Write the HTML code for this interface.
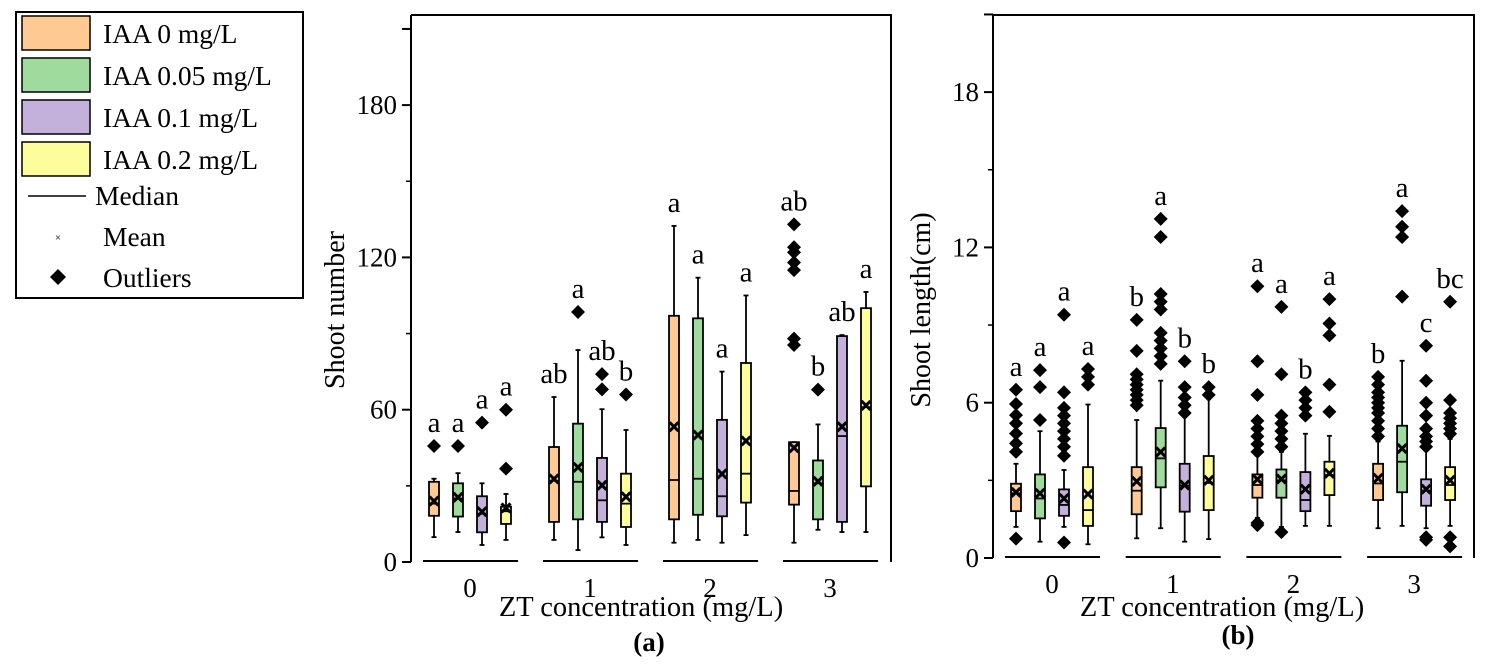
<!DOCTYPE html>
<html><head><meta charset="utf-8"><style>
body{margin:0;background:#fff;}
svg text{font-family:"Liberation Serif",serif;fill:#000;}
</style></head><body>
<svg id="chart" width="1488" height="664" viewBox="0 0 1488 664" xmlns="http://www.w3.org/2000/svg">
<g>
<rect x="16" y="12" width="287" height="286" fill="#fff" stroke="#000" stroke-width="2"/>
<rect x="22" y="16" width="68" height="34" fill="#ffc994" stroke="#000" stroke-width="1.5"/>
<text x="103" y="43" font-size="27.5">IAA 0 mg/L</text>
<rect x="22" y="58" width="68" height="34" fill="#9edb9c" stroke="#000" stroke-width="1.5"/>
<text x="103" y="85" font-size="27.5">IAA 0.05 mg/L</text>
<rect x="22" y="100" width="68" height="34" fill="#c3b1dc" stroke="#000" stroke-width="1.5"/>
<text x="103" y="127" font-size="27.5">IAA 0.1 mg/L</text>
<rect x="22" y="142" width="68" height="34" fill="#fdfd9b" stroke="#000" stroke-width="1.5"/>
<text x="103" y="169" font-size="27.5">IAA 0.2 mg/L</text>
<line x1="28" y1="196" x2="86" y2="196" stroke="#000" stroke-width="1.5"/>
<text x="95" y="205" font-size="27.5">Median</text>
<text x="58" y="241" font-size="11" text-anchor="middle">×</text>
<text x="103" y="246" font-size="27.5">Mean</text>
<path d="M58 269 L66 277 L58 285 L50 277 Z" fill="#000"/>
<text x="103" y="287" font-size="27.5">Outliers</text>
</g>
<g id="panelA"></g>
<g id="panelB"></g>
</svg>
<script>
const categories = ["0", "1", "2", "3"];
const series = ["IAA 0 mg/L", "IAA 0.05 mg/L", "IAA 0.1 mg/L", "IAA 0.2 mg/L"];
const colors = ["#ffc994", "#9edb9c", "#c3b1dc", "#fdfd9b"];

const aTicks = [0, 60, 120, 180];
const aLo   = [9.8,11.8,6.7,8.7, 8.7,4.7,9.7,6.7, 7.6,8.7,7.6,10.6, 7.6,12.7,11.8,11.8];
const aQ1   = [18.2,17.9,11.7,15, 15.8,16.8,15.8,13.8, 16.8,18.6,18,23.4, 22.6,16.8,15.8,29.8];
const aMed  = [23,25,19,20, 32,31.6,24.3,23, 32.3,32.8,25.9,34.8, 28,31,49.6,61];
const aQ3   = [31.6,31,25.9,21.8, 45.3,54.5,41,34.8, 97,96,56,78.4, 47.2,40,89,100];
const aHi   = [32.8,35,31,26.8, 65,83.5,60.2,52, 132.4,112,75,105, 47.2,54.2,89.4,106.4];
const aMean = [24,25.5,19.8,21.3, 32.7,37.3,30.2,25.7, 53.3,50,34.7,47.7, 45,31.8,53.3,61.7];
const aOut  = [[45.7],[45.7],[54.9],[60,36.8], [],[98.5],[74,68],[66], [],[],[],[], [88,85.5,115,118,122,124,133],[67.9],[],[]];
const aLetters = ["a","a","a","a","ab","a","ab","b","a","a","a","a","ab","b","ab","a"];

const bTicks = [0, 6, 12, 18];
const bLo   = [1.2,0.63,1.2,0.53, 0.76,1.15,0.63,0.73, 1.55,1.2,1.24,1.24, 1.15,1.24,1.15,1.24];
const bQ1   = [1.81,1.53,1.63,1.24, 1.69,2.73,1.79,1.85, 2.33,2.33,1.81,2.43, 2.24,2.54,2.02,2.24];
const bMed  = [2.5,2.3,2.05,1.85, 2.6,3.85,2.8,2.9, 2.82,3.0,2.24,3.2, 2.88,3.72,2.6,2.82];
const bQ3   = [2.87,3.23,2.65,3.51, 3.51,5.02,3.64,3.94, 3.23,3.42,3.32,3.72, 3.64,5.11,3.04,3.51];
const bHi   = [3.64,4.9,3.4,5.93, 5.33,6.85,5.6,6.23, 4.0,4.1,4.8,4.72, 4.5,7.62,4.2,4.6];
const bMean = [2.54,2.5,2.3,2.47, 2.96,4.1,2.82,3.0, 3.04,3.05,2.66,3.27, 3.08,4.23,2.66,3.0];
const bOut  = [[6.5,5.95,5.52,5.2,4.81,4.43,4.1,0.75],[7.26,6.6,5.33],[9.4,6.4,5.8,5.5,5.2,4.9,4.6,4.3,3.95,0.6],[7.3,7.0,6.7],
               [9.2,8.0,7.1,6.9,6.7,6.5,6.3,6.1,5.9],[13.1,12.4,10.2,9.9,9.6,8.7,8.4,8.1,7.8,7.5],[7.6,6.6,6.2,5.9,5.6],[6.6,6.3],
               [10.5,7.6,6.3,5.3,5.0,4.7,4.4,4.1,1.27,1.35],[9.7,7.1,5.5,5.2,4.9,4.6,4.3,1.0],[6.4,6.1,5.8,5.5],[10.0,9.06,8.6,6.7,5.65],
               [7.0,6.7,6.4,6.2,6.0,5.8,5.6,5.3,5.0,4.7],[13.4,12.8,12.4,10.1],[8.2,6.85,6.0,5.5,5.0,4.7,4.5,4.3,0.8,0.7],[9.9,6.1,5.6,5.4,5.2,5.0,4.8,0.8,0.45]];
const bLetters = ["a","a","a","a","b","a","b","b","a","a","b","a","b","a","c","bc"];

const NS = "http://www.w3.org/2000/svg";
function mk(parent, tag, attrs) {
  const el = document.createElementNS(NS, tag);
  for (const k in attrs) el.setAttribute(k, attrs[k]);
  parent.appendChild(el);
  return el;
}

function drawPanel(g, cfg) {
  const yScale = v => cfg.y0 - v * cfg.ppu;
  const xBox = i => cfg.g0 + Math.floor(i / 4) * cfg.gStep + (i % 4) * 24;
  const la = mk(g, "line", {x1: cfg.xl, y1: cfg.top, x2: cfg.xl, y2: cfg.y0, stroke: "#000", "stroke-width": 2});
  
  
  const fr = mk(g, "path", {d: `M${cfg.xl} ${cfg.top} H${cfg.xr} V${cfg.y0}`, fill: "none", stroke: "#000", "stroke-width": 2});
  
  
  const allTicks = cfg.ticks.concat([cfg.ticks[cfg.ticks.length - 1] + (cfg.ticks[1] - cfg.ticks[0]) / 2]);
  allTicks.forEach((t, k) => {
    const y = yScale(t);
    const tk = mk(g, "line", {x1: cfg.xl - 9, y1: y, x2: cfg.xl, y2: y, stroke: "#000", "stroke-width": 2});
    
    
    if (k < cfg.ticks.length) {
      const tl = mk(g, "text", {x: cfg.xl - 14, y: y + 9, "font-size": 27, "text-anchor": "end"});
      tl.textContent = t;
      
      
    }
    const ym = yScale(t + (cfg.ticks[1] - cfg.ticks[0]) / 2);
    if (ym > cfg.top + 2 && k < cfg.ticks.length) {
      const mt = mk(g, "line", {x1: cfg.xl - 5, y1: ym, x2: cfg.xl, y2: ym, stroke: "#000", "stroke-width": 1.5});
      
      
    }
  });
  categories.forEach((c, gi) => {
    const xs = cfg.g0 + gi * cfg.gStep;
    const cl = mk(g, "line", {x1: xs - 11, y1: cfg.y0 - 1, x2: xs + 84, y2: cfg.y0 - 1, stroke: "#000", "stroke-width": 2});
    
    
    const ct = mk(g, "text", {x: xs + 36, y: cfg.y0 + 35, "font-size": 27, "text-anchor": "middle"});
    ct.textContent = c;
    
    
  });
  for (let i = 0; i < 16; i++) {
    const x = xBox(i);
    const bg = mk(g, "g", {});
    
    
    mk(bg, "line", {x1: x, y1: yScale(cfg.lo[i]), x2: x, y2: yScale(cfg.hi[i]), stroke: "#000", "stroke-width": 1.8});
    mk(bg, "line", {x1: x - 2.5, y1: yScale(cfg.lo[i]), x2: x + 2.5, y2: yScale(cfg.lo[i]), stroke: "#000", "stroke-width": 1.8});
    mk(bg, "line", {x1: x - 2.5, y1: yScale(cfg.hi[i]), x2: x + 2.5, y2: yScale(cfg.hi[i]), stroke: "#000", "stroke-width": 1.8});
    mk(bg, "rect", {x: x - 5, y: yScale(cfg.q3[i]), width: 10, height: Math.max(1, yScale(cfg.q1[i]) - yScale(cfg.q3[i])), fill: colors[i % 4], stroke: "#000", "stroke-width": 1.8});
    mk(bg, "line", {x1: x - 5, y1: yScale(cfg.med[i]), x2: x + 5, y2: yScale(cfg.med[i]), stroke: "#000", "stroke-width": 1.8});
    const my = yScale(cfg.mean[i]);
    const mm = mk(bg, "path", {d: `M${x-4.5} ${my-4.5} L${x+4.5} ${my+4.5} M${x+4.5} ${my-4.5} L${x-4.5} ${my+4.5}`, stroke: "#000", "stroke-width": 3});
    
    
    let topY = yScale(cfg.hi[i]);
    cfg.out[i].forEach(v => {
      const oy = yScale(v);
      topY = Math.min(topY, oy);
      const d = mk(bg, "path", {d: `M${x} ${oy-7} L${x+7} ${oy} L${x} ${oy+7} L${x-7} ${oy} Z`, fill: "#000"});
      
      
    });
    const lt = mk(g, "text", {x: x, y: topY - 14, "font-size": 29, "text-anchor": "middle"});
    lt.textContent = cfg.letters[i];
    
    
  }
  const yt = mk(g, "text", {x: 0, y: 0, "font-size": 28, "text-anchor": "middle", transform: `translate(${cfg.ytx},310) rotate(-90)`});
  yt.textContent = cfg.ytitle;
  
  
  const xt = mk(g, "text", {x: cfg.xtx, y: 616, "font-size": 28.5, "text-anchor": "middle"});
  xt.textContent = "ZT concentration (mg/L)";
  
  
  const pl = mk(g, "text", {x: cfg.plx, y: cfg.ply, "font-size": 27, "font-weight": "bold", "text-anchor": "middle"});
  pl.textContent = cfg.plabel;
  
  
}

drawPanel(document.getElementById("panelA"), {
  xl: 411, xr: 891, top: 15, y0: 562, ppu: 152.3 / 60, g0: 434, gStep: 120, ticks: aTicks,
  lo: aLo, q1: aQ1, med: aMed, q3: aQ3, hi: aHi, mean: aMean, out: aOut, letters: aLetters,
  ytitle: "Shoot number", ytx: 344, xtx: 641, plabel: "(a)", plx: 649, ply: 651
});
drawPanel(document.getElementById("panelB"), {
  xl: 993, xr: 1474, top: 15, y0: 558, ppu: 155.3 / 6, g0: 1016, gStep: 120.7, ticks: bTicks,
  lo: bLo, q1: bQ1, med: bMed, q3: bQ3, hi: bHi, mean: bMean, out: bOut, letters: bLetters,
  ytitle: "Shoot length(cm)", ytx: 930, xtx: 1222, plabel: "(b)", plx: 1238, ply: 644
});
</script>
</body></html>
